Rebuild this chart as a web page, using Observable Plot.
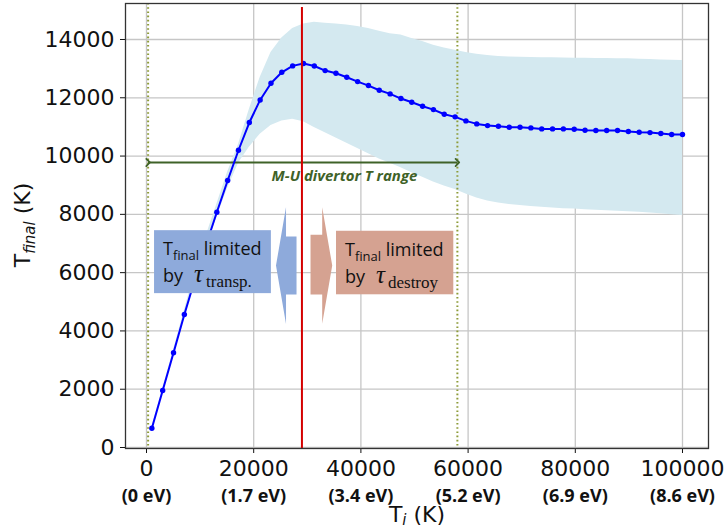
<!DOCTYPE html>
<html><head><meta charset="utf-8">
<script src="https://cdn.jsdelivr.net/npm/d3@7"></script>
<script src="https://cdn.jsdelivr.net/npm/@observablehq/plot@0.6"></script>
<style>body{margin:0;background:#fff} svg{display:block}</style>
</head><body><div id="chart"></div>
<script>
// ---- data ----
const tiK = [1000, 3020, 5041, 7061, 9082, 11102, 13122, 15143, 17163, 19184, 21204, 23224, 25245, 27265, 29286, 31306, 33327, 35347, 37367, 39388, 41408, 43429, 45449, 47469, 49490, 51510, 53531, 55551, 57571, 59592, 61612, 63633, 65653, 67673, 69694, 71714, 73735, 75755, 77776, 79796, 81816, 83837, 85857, 87878, 89898, 91918, 93939, 95959, 97980, 100000];
const tFinal = [662, 1955, 3249, 4562, 5800, 6950, 8072, 9160, 10200, 11150, 11926, 12500, 12875, 13094, 13175, 13090, 12933, 12841, 12704, 12556, 12419, 12258, 12134, 11973, 11846, 11709, 11595, 11434, 11345, 11207, 11104, 11046, 11022, 10988, 10988, 10966, 10932, 10932, 10932, 10920, 10886, 10875, 10875, 10875, 10841, 10818, 10806, 10772, 10738, 10738];
const bandLow = [630, 1890, 3150, 4430, 5700, 6850, 7900, 8900, 9750, 10300, 10750, 11050, 11200, 11260, 11180, 10980, 10800, 10620, 10440, 10260, 10080, 9900, 9750, 9600, 9430, 9270, 9110, 8970, 8850, 8700, 8560, 8460, 8390, 8340, 8300, 8270, 8240, 8215, 8195, 8180, 8160, 8140, 8125, 8110, 8090, 8075, 8050, 8020, 7990, 7960];
const bandHigh = [700, 2020, 3350, 4700, 6050, 7250, 8350, 9450, 10400, 11600, 12700, 13550, 14050, 14380, 14530, 14590, 14560, 14530, 14500, 14450, 14380, 14280, 14200, 14150, 14030, 13930, 13800, 13710, 13630, 13550, 13490, 13450, 13420, 13400, 13390, 13380, 13375, 13370, 13365, 13360, 13355, 13350, 13345, 13340, 13335, 13325, 13310, 13300, 13290, 13276];
const xTicks = [0, 20000, 40000, 60000, 80000, 100000];
const evLabels = ["(0 eV)", "(1.7 eV)", "(3.4 eV)", "(5.2 eV)", "(6.9 eV)", "(8.6 eV)"];
const yTicks = [0, 2000, 4000, 6000, 8000, 10000, 12000, 14000];
const criticalTi = [29000];
const divertorRange = [300, 58000];
const divertorArrowY = 9780;
const divertorLabel = "M-U divertor T range";
// annotation shapes (data units)
const boxTransp = {x1: 1500, x2: 23300, y1: 5280, y2: 7440};
const boxDestroy = {x1: 35450, x2: 57330, y1: 5240, y2: 7420};
const arrowLeftX = [24160, 26030, 26030, 27990, 27990, 26030, 26030];
const arrowLeftY = [6244, 8250, 7238, 7238, 5249, 5249, 4237];
const arrowRightX = [34650, 32780, 32780, 30600, 30600, 32780, 32780];
const arrowRightY = [6244, 8244, 7297, 7297, 5249, 5249, 4243];

const data = tiK.map((x, i) => ({x, y: tFinal[i], lo: bandLow[i], hi: bandHigh[i]}));
const yMin = -34, yMax = 15235;

const plot = Plot.plot({
  width: 726, height: 529,
  marginLeft: 125, marginRight: 18, marginTop: 3, marginBottom: 81,
  style: {fontFamily: "DejaVu Sans", fontSize: "22px", color: "#111", background: "#fff"},
  x: {domain: [-3918, 104851], ticks: xTicks, tickFormat: d => String(d), tickSize: 5, tickPadding: 7, label: null},
  y: {domain: [yMin, yMax], ticks: yTicks, tickFormat: d => String(d), tickSize: 5, tickPadding: 6, label: null},
  marks: [
    Plot.ruleX(xTicks, {stroke: "#c6c6c6", strokeWidth: 1.3}),
    Plot.ruleY(yTicks, {stroke: "#c6c6c6", strokeWidth: 1.3}),
    Plot.areaY(data, {x: "x", y1: "lo", y2: "hi", fill: "#d4e9f0"}),
    Plot.ruleX(divertorRange, {stroke: "#8d9b38", strokeWidth: 2, strokeDasharray: "1.6,2.6"}),
    Plot.link([0], {x1: () => divertorRange[0], x2: () => divertorRange[1], y1: () => divertorArrowY, y2: () => divertorArrowY,
      stroke: "#3f6228", strokeWidth: 1.8, markerStart: "arrow", markerEnd: "arrow"}),
    Plot.text([divertorLabel], {x: () => 36940, y: () => 9297, text: d => d, fontFamily: "Open Sans", fontWeight: "bold",
      fontStyle: "italic", fontSize: 15, fill: "#3f6228"}),
    Plot.line(data, {x: "x", y: "y", stroke: "#0000ff", strokeWidth: 2}),
    Plot.dot(data, {x: "x", y: "y", r: 2.7, fill: "#0000ff", stroke: "none"}),
    Plot.ruleX(criticalTi, {y1: yMin, y2: 15100, stroke: "#d40000", strokeWidth: 2}),
    Plot.rect([boxTransp], {x1: "x1", x2: "x2", y1: "y1", y2: "y2", fill: "#8eaadb"}),
    Plot.rect([boxDestroy], {x1: "x1", x2: "x2", y1: "y1", y2: "y2", fill: "#d5a291"}),
    Plot.line(arrowLeftX, {x: arrowLeftX, y: arrowLeftY, fill: "#8eaadb", stroke: "none"}),
    Plot.line(arrowRightX, {x: arrowRightX, y: arrowRightY, fill: "#d5a291", stroke: "none"}),
    Plot.text(evLabels, {x: xTicks, y: () => yMin, dy: 48, text: d => d, fontFamily: "Open Sans", fontWeight: "bold", fontSize: 18, fill: "#111"}),
    Plot.frame({stroke: "#333", strokeWidth: 1.3})
  ]
});
document.getElementById("chart").appendChild(plot);

const sx = plot.scale("x"), sy = plot.scale("y");
const svg = d3.select(plot);

// axis labels with subscripts
const xl = svg.append("text").attr("x", 417).attr("y", 522).attr("text-anchor", "middle")
  .attr("font-family", "DejaVu Sans").attr("font-size", 22).attr("fill", "#111");
xl.append("tspan").text("T");
xl.append("tspan").attr("font-size", 15).attr("font-style", "italic").attr("dy", 3).text("i");
xl.append("tspan").attr("dy", -3).text(" (K)");

const yl = svg.append("text").attr("transform", "translate(30,225) rotate(-90)").attr("text-anchor", "middle")
  .attr("font-family", "DejaVu Sans").attr("font-size", 22).attr("fill", "#111");
yl.append("tspan").text("T");
yl.append("tspan").attr("font-size", 15).attr("font-style", "italic").attr("dy", 5).text("final");
yl.append("tspan").attr("dy", -5).text(" (K)");

// box texts
function boxText(box, sub) {
  const x0 = sx.apply(box.x1) + 9;
  const ytop = sy.apply(box.y2);
  const g = svg.append("g").attr("fill", "#111").attr("font-family", "Open Sans").attr("text-anchor", "start");
  const t1 = g.append("text").attr("x", x0).attr("y", ytop + 25).attr("font-size", 18);
  t1.append("tspan").text("T");
  t1.append("tspan").attr("font-size", 13).attr("dy", 5).text("final");
  t1.append("tspan").attr("dy", -5).text(" limited");
  const t2 = g.append("text").attr("x", x0).attr("y", ytop + 52).attr("font-size", 18);
  t2.append("tspan").text("by");
  t2.append("tspan").attr("dx", 11).attr("font-family", "Liberation Serif").attr("font-style", "italic").attr("font-size", 25).text("τ");
  t2.append("tspan").attr("dx", 3).attr("dy", 5).attr("font-family", "Liberation Serif").attr("font-size", 17).text(sub);
}
boxText(boxTransp, "transp.");
boxText(boxDestroy, "destroy");
</script>
</body></html>
